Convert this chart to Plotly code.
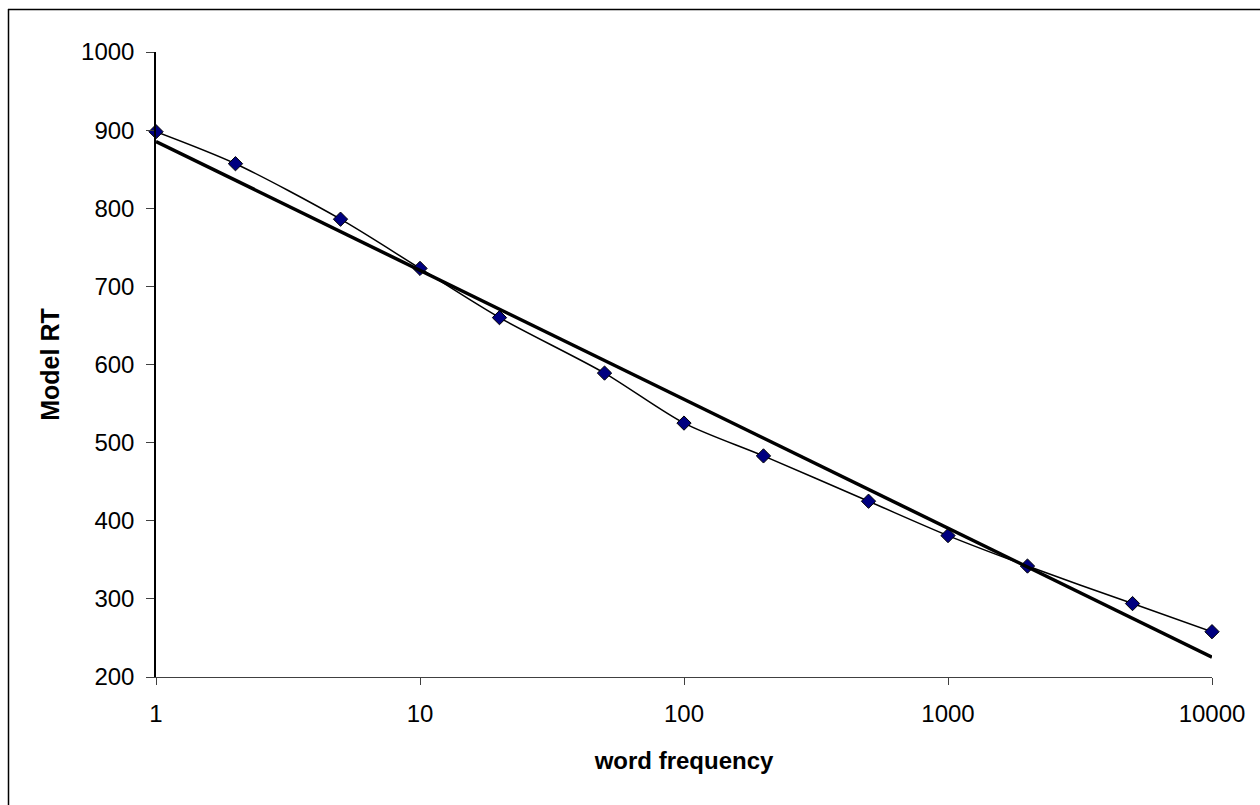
import numpy as np
import plotly.graph_objects as go

# data
word_frequency = [1, 2, 5, 10, 20, 50, 100, 200, 500, 1000, 2000, 5000, 10000]
model_rt = [898, 857, 786, 723, 660, 589, 525, 483, 425, 381, 342, 294, 258]
y_ticks = [200, 300, 400, 500, 600, 700, 800, 900, 1000]
x_ticks = [1, 10, 100, 1000, 10000]

# logarithmic trend line (least squares on log10 x)
lx = np.log10(word_frequency)
slope, intercept = np.polyfit(lx, model_rt, 1)
trend_x = np.logspace(0, 4, 200)
trend_y = intercept + slope * np.log10(trend_x)

FONT = "Liberation Sans, Arial, sans-serif"

fig = go.Figure()
fig.add_trace(go.Scatter(
    x=word_frequency, y=model_rt, mode="lines+markers",
    line=dict(color="black", width=1.5, shape="spline", smoothing=0.8),
    marker=dict(symbol="diamond", size=11, color="#000080",
                line=dict(color="black", width=1)),
    cliponaxis=False,
    showlegend=False, hoverinfo="x+y"))
fig.add_trace(go.Scatter(
    x=trend_x, y=trend_y, mode="lines",
    line=dict(color="black", width=3.5),
    cliponaxis=False,
    showlegend=False, hoverinfo="skip"))

W, H = 1260, 805
L, R, T, B = 156, 48, 52, 128
pw, ph = W - L - R, H - T - B

def px(xp):
    return (xp - L) / pw

def py(yp):
    return (H - B - yp) / ph

fig.update_layout(
    width=W, height=H,
    margin=dict(l=L, r=R, t=T, b=B),
    paper_bgcolor="white", plot_bgcolor="white",
    font=dict(family=FONT, color="black", size=24),
    xaxis=dict(
        type="log", range=[0, 4], tickvals=x_ticks,
        ticktext=[str(v) for v in x_ticks],
        showgrid=False, zeroline=False,
        showline=True, linecolor="#404040", linewidth=1,
        ticks="outside", ticklen=7, tickcolor="#404040", tickwidth=1,
        ticklabelstandoff=8,
        tickfont=dict(size=24, family=FONT),
        title=dict(text="<b>word frequency</b>", font=dict(size=24, family=FONT), standoff=26),
    ),
    yaxis=dict(
        range=[200, 1000], tickvals=y_ticks,
        showgrid=False, zeroline=False,
        showline=True, linecolor="black", linewidth=1.5,
        ticks="outside", ticklen=8, tickcolor="#404040", tickwidth=1,
        ticklabelstandoff=7,
        tickfont=dict(size=24, family=FONT),
        title=dict(text="<b>Model RT</b>", font=dict(size=25, family=FONT), standoff=14),
    ),
    shapes=[
        dict(type="line", xref="paper", yref="paper",
             x0=px(8), x1=px(1270), y0=py(9.5), y1=py(9.5),
             line=dict(color="black", width=1.5)),
        dict(type="line", xref="paper", yref="paper",
             x0=px(8.5), x1=px(8.5), y0=py(9), y1=py(815),
             line=dict(color="black", width=1.5)),
    ],
)

fig.write_html("out.html")
